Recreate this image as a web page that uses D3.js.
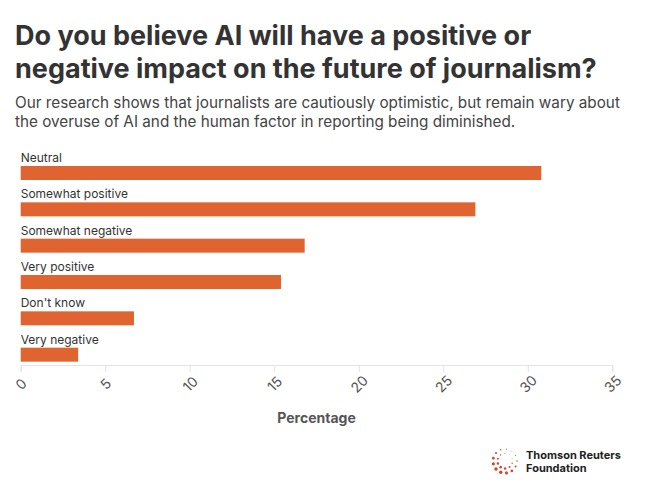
<!DOCTYPE html>
<html>
<head>
<meta charset="utf-8">
<script src="https://cdn.jsdelivr.net/npm/d3@7"></script>
<style>
  html, body { margin: 0; padding: 0; background: #fff; }
  svg { display: block; font-family: Inter, "Noto Sans", sans-serif; }
</style>
</head>
<body>
<svg id="chart"></svg>
<script>
const categories = ['Neutral', 'Somewhat positive', 'Somewhat negative', 'Very positive', "Don't know", 'Very negative'];
const values = [30.8, 26.9, 16.8, 15.4, 6.7, 3.4];
const xTicks = [0, 5, 10, 15, 20, 25, 30, 35];
const titleLines = ['Do you believe AI will have a positive or', 'negative impact on the future of journalism?'];
const subtitleLines = [
    'Our research shows that journalists are cautiously optimistic, but remain wary about',
    'the overuse of AI and the human factor in reporting being diminished.'
];

const width = 651;
const height = 487;
const barColor = '#e0642f';

const svg = d3.select('#chart')
    .attr('width', width)
    .attr('height', height);

// title + subtitle
svg.selectAll('.title')
    .data(titleLines)
    .enter().append('text')
    .attr('class', 'title')
    .attr('x', 15)
    .attr('y', (d, i) => 45 + i * 33)
    .style('font-size', '27px')
    .style('font-weight', '700')
    .style('fill', '#333')
    .text(d => d);

const subtitle = svg.selectAll('.subtitle')
    .data(subtitleLines)
    .enter().append('text')
    .attr('class', 'subtitle')
    .attr('x', 15)
    .attr('y', (d, i) => 108 + i * 19)
    .style('font-size', '16px')
    .style('fill', '#444')
    .text(d => d);

// fit the long subtitle line to roughly 605px like the original
const subW = subtitle.node().getComputedTextLength();
subtitle.style('font-size', (16 * 605 / subW).toFixed(2) + 'px');

const data = categories.map((c, i) => ({ label: c, value: values[i] }));

const x = d3.scaleLinear()
    .domain([0, 35])
    .range([20.7, 612.3]);

const y = d3.scaleBand()
    .domain(categories)
    .range([148, 366])
    .padding(0);

// axis
const axis = svg.append('g')
    .attr('transform', `translate(0,${y.range()[1] - 1})`)
    .call(d3.axisBottom(x).tickValues(xTicks).tickSize(7).tickPadding(10));

axis.select('.domain').attr('stroke', '#e3e3e3');
axis.selectAll('.tick line').attr('stroke', '#e3e3e3');
axis.selectAll('.tick text')
    .style('font-size', '14px')
    .style('font-family', 'Inter, "Noto Sans", sans-serif')
    .style('fill', '#555')
    .attr('text-anchor', 'middle')
    .attr('dy', null)
    .attr('y', 24)
    .attr('transform', 'rotate(-45 0 19)');

svg.append('text')
    .attr('x', (x.range()[0] + x.range()[1]) / 2)
    .attr('y', 423)
    .attr('text-anchor', 'middle')
    .style('font-size', '14px')
    .style('font-weight', '700')
    .style('fill', '#555')
    .text('Percentage');

// rows
const rows = svg.selectAll('.row')
    .data(data)
    .enter().append('g')
    .attr('class', 'row')
    .attr('transform', d => `translate(0,${y(d.label)})`);

rows.append('text')
    .attr('x', x(0))
    .attr('y', 14)
    .style('font-size', '12px')
    .style('fill', '#333')
    .text(d => d.label);

rows.append('rect')
    .attr('x', x(0))
    .attr('y', 18)
    .attr('width', d => x(d.value) - x(0))
    .attr('height', 14)
    .attr('fill', barColor);

// logo
const logo = svg.append('g').attr('transform', 'translate(505,461)');
const ringDots = [];
[[12, 13, 1.6], [7.5, 10, 1.2]].forEach(([r, n, s], k) => {
    d3.range(n).forEach(j => {
        const a = (j / n) * Math.PI * 2 + k * 0.3;
        ringDots.push({ x: r * Math.cos(a), y: r * Math.sin(a), r: s * (0.7 + 0.4 * Math.cos(a - 2.2)) });
    });
});
logo.selectAll('circle')
    .data(ringDots)
    .enter().append('circle')
    .attr('cx', d => d.x)
    .attr('cy', d => d.y)
    .attr('r', d => d.r)
    .attr('fill', '#d6462c');

svg.append('text')
    .attr('x', 526)
    .attr('y', 459)
    .style('font-size', '11px')
    .style('font-weight', '700')
    .style('fill', '#222')
    .text('Thomson Reuters');
svg.append('text')
    .attr('x', 526)
    .attr('y', 472)
    .style('font-size', '11px')
    .style('font-weight', '700')
    .style('fill', '#222')
    .text('Foundation');
</script>
</body>
</html>
